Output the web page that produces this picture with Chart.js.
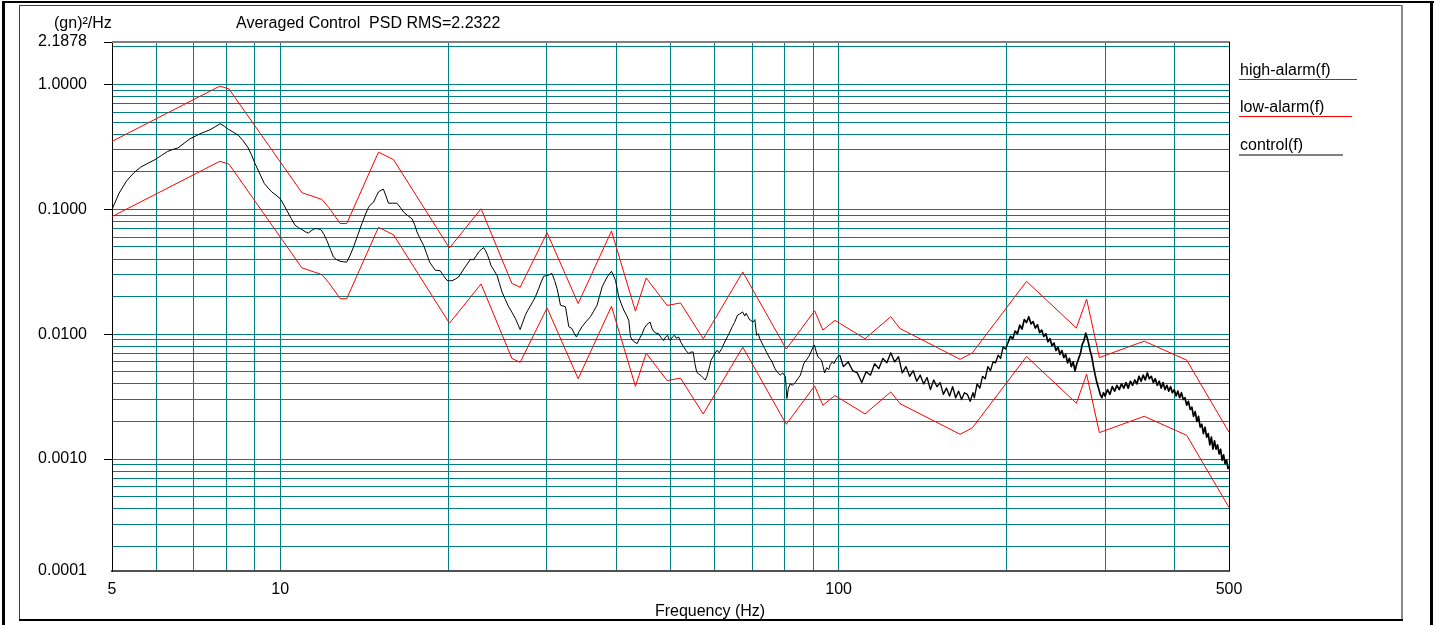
<!DOCTYPE html>
<html>
<head>
<meta charset="utf-8">
<title>Averaged Control PSD</title>
<script src="https://cdn.jsdelivr.net/npm/chart.js@4.4.1/dist/chart.umd.min.js"></script>
<style>
  html, body { margin: 0; padding: 0; background: #ffffff; }
  #wrap { width: 1440px; height: 625px; }
</style>
</head>
<body>
<div id="wrap"><canvas id="psd" width="1440" height="625"></canvas></div>
<script>
// ---- data ---------------------------------------------------------------
// Alarm profiles: breakpoints in Hz and (gn)^2/Hz
const alarmFreq = [5, 7.8, 8.1, 10.94, 11.88, 12.21, 12.81, 13.16, 15.0, 15.96, 20.1, 22.9, 26.0, 26.9, 30.06, 34.17, 39.2, 43.27, 45.23, 49.32, 52.1, 57.22, 67.36, 80.58, 90.58, 93.73, 98.5, 111.5, 124, 128.8, 165, 173.6, 217, 266.5, 278, 293, 352.5, 420, 500];
const highAlarm = [0.35, 0.97, 0.92, 0.136, 0.120, 0.104, 0.077, 0.077, 0.287, 0.25, 0.049, 0.101, 0.0255, 0.0238, 0.065, 0.0176, 0.067, 0.0153, 0.0282, 0.0170, 0.0178, 0.0092, 0.0315, 0.0076, 0.0154, 0.0108, 0.0129, 0.0092, 0.0138, 0.0111, 0.0063, 0.0071, 0.0265, 0.0112, 0.0191, 0.0065, 0.0088, 0.0062, 0.00164];
const lowAlarm = [0.0875, 0.2425, 0.23, 0.034, 0.030, 0.026, 0.01925, 0.01925, 0.0718, 0.0625, 0.01225, 0.02525, 0.0064, 0.00595, 0.01625, 0.0044, 0.01675, 0.00383, 0.00705, 0.00425, 0.00445, 0.0023, 0.00788, 0.0019, 0.00385, 0.0027, 0.00323, 0.0023, 0.00345, 0.00278, 0.00158, 0.00178, 0.00663, 0.0028, 0.00478, 0.00163, 0.0022, 0.00155, 0.00041];

// Averaged control spectrum: [frequency Hz, PSD (gn)^2/Hz]
const controlSpectrum = [
  [5.00,0.100],[5.15,0.135],[5.31,0.169],[5.47,0.196],[5.63,0.218],[5.80,0.234],[5.97,0.250],[6.13,0.270],[6.29,0.291],[6.42,0.301],
  [6.56,0.310],[6.73,0.338],[6.90,0.368],[7.05,0.385],[7.19,0.403],[7.34,0.418],[7.49,0.434],[7.65,0.458],[7.81,0.485],[7.95,0.462],
  [8.08,0.437],[8.25,0.414],[8.42,0.391],[8.58,0.355],[8.75,0.315],[8.88,0.275],[9.02,0.232],[9.20,0.192],[9.37,0.161],[9.52,0.148],
  [9.66,0.138],[9.83,0.130],[10.00,0.122],[10.14,0.110],[10.28,0.098],[10.46,0.085],[10.64,0.0745],[10.79,0.0712],[10.94,0.0688],[11.09,0.0662],
  [11.24,0.0646],[11.40,0.0680],[11.55,0.0701],[11.69,0.0698],[11.83,0.0688],[11.98,0.0630],[12.12,0.0565],[12.30,0.0480],[12.46,0.0415],[12.63,0.0395],
  [12.80,0.0384],[13.00,0.0380],[13.16,0.0378],[13.35,0.0430],[13.53,0.0499],[13.77,0.0620],[14.01,0.0769],[14.20,0.0900],[14.40,0.104],[14.55,0.110],
  [14.70,0.114],[14.85,0.126],[15.00,0.138],[15.15,0.142],[15.31,0.145],[15.47,0.128],[15.63,0.112],[15.90,0.112],[16.18,0.112],[16.40,0.104],
  [16.63,0.0952],[16.90,0.0895],[17.22,0.0842],[17.40,0.0760],[17.58,0.0659],[17.82,0.0580],[18.07,0.0515],[18.30,0.0440],[18.52,0.0378],[18.74,0.0350],
  [18.96,0.0325],[19.15,0.0324],[19.35,0.0322],[19.60,0.0295],[19.89,0.0270],[20.10,0.0268],[20.31,0.0268],[20.58,0.0276],[20.87,0.0287],[21.15,0.0315],
  [21.45,0.0346],[21.70,0.0372],[21.90,0.0396],[22.20,0.0396],[22.45,0.0425],[22.67,0.0456],[22.90,0.0475],[23.14,0.0494],[23.33,0.0465],[23.52,0.0429],
  [23.70,0.0390],[23.85,0.0356],[24.15,0.0325],[24.45,0.0296],[24.70,0.0255],[24.96,0.0218],[25.30,0.0190],[25.65,0.0166],[26.00,0.0150],[26.37,0.0134],
  [26.65,0.0120],[26.90,0.0109],[27.20,0.0125],[27.48,0.0142],[27.75,0.0155],[28.05,0.0168],[28.35,0.0183],[28.64,0.0199],[29.04,0.0232],[29.34,0.0262],
  [29.64,0.0291],[29.90,0.0294],[30.18,0.0296],[30.43,0.0302],[30.68,0.0306],[31.00,0.0270],[31.32,0.0232],[31.55,0.0200],[31.76,0.0171],[32.10,0.0168],
  [32.42,0.0166],[32.65,0.0138],[32.87,0.0115],[33.30,0.0111],[33.60,0.0102],[33.93,0.0095],[34.30,0.0105],[34.73,0.0115],[35.30,0.0126],[35.94,0.0138],
  [36.40,0.0152],[36.94,0.0171],[37.30,0.0200],[37.72,0.0239],[38.10,0.0262],[38.50,0.0287],[38.85,0.0303],[39.20,0.0319],[39.50,0.0298],[39.85,0.0270],
  [40.10,0.0235],[40.39,0.0199],[40.80,0.0176],[41.24,0.0156],[41.70,0.0142],[42.10,0.0129],[42.40,0.0095],[42.90,0.0088],[43.57,0.0084],[44.00,0.0092],
  [44.48,0.0101],[44.90,0.0112],[45.40,0.0120],[45.97,0.0125],[46.30,0.0112],[46.67,0.0105],[47.10,0.0102],[47.60,0.0101],[48.10,0.0094],[48.60,0.0089],
  [49.00,0.0095],[49.40,0.0098],[49.70,0.0091],[50.00,0.0089],[50.40,0.0095],[50.80,0.0098],[51.20,0.0093],[51.70,0.0095],[52.20,0.0086],[52.80,0.0079],
  [53.30,0.0074],[53.90,0.0070],[54.40,0.0072],[54.90,0.0072],[55.30,0.0058],[55.70,0.0050],[56.10,0.0048],[56.60,0.0047],[57.10,0.0045],[57.70,0.0043],
  [58.10,0.0046],[58.40,0.0050],[58.80,0.0056],[59.10,0.0062],[59.60,0.0066],[60.00,0.0070],[60.60,0.00745],[61.10,0.0071],[61.80,0.0077],[62.40,0.0085],
  [63.20,0.0095],[63.70,0.0102],[64.50,0.0115],[65.10,0.0124],[65.90,0.0142],[66.50,0.0145],[67.30,0.0151],[67.90,0.0140],[68.30,0.0147],[68.80,0.0138],
  [69.40,0.0130],[70.30,0.0125],[70.80,0.0131],[71.30,0.0098],[71.80,0.0101],[72.20,0.0093],[72.90,0.0085],[73.70,0.0077],[74.40,0.0071],[75.30,0.0064],
  [75.90,0.0061],[76.90,0.0053],[77.60,0.0050],[78.60,0.0047],[79.40,0.0049],[80.30,0.00456],[80.80,0.00306],[81.30,0.0037],[81.90,0.0040],[82.70,0.0039],
  [83.60,0.0041],[84.50,0.0044],[85.40,0.0047],[86.00,0.0052],[86.60,0.0058],[87.50,0.0062],[88.40,0.0066],[89.20,0.0072],[89.90,0.0078],[90.50,0.0082],
  [91.20,0.0072],[91.80,0.0066],[92.50,0.0064],[93.20,0.0062],[93.80,0.0055],[94.40,0.0049],[95.20,0.0054],[96.00,0.0052],[96.60,0.0057],[97.40,0.0060],
  [98.10,0.0058],[98.80,0.0062],[99.60,0.0066],[100.5,0.0068],[102,0.0055],[104,0.0060],[106,0.0051],[108,0.0049],[110,0.0041],[112,0.0050],
  [114,0.0047],[116,0.0058],[118,0.0053],[120,0.0064],[122,0.0059],[124,0.0071],[126,0.0060],[128,0.0066],[130,0.0049],[132,0.0055],
  [134,0.0046],[136,0.0051],[138,0.0042],[140,0.0047],[142,0.0040],[144,0.0045],[146,0.0036],[148,0.0043],[150,0.0038],[152,0.0041],
  [154,0.0033],[156,0.0037],[158,0.0032],[160,0.0038],[162,0.0031],[164,0.0035],[166,0.0030],[168,0.0034],[170,0.0033],[172,0.0029],
  [174,0.0034],[175,0.0031],[177,0.0040],[179,0.0037],[181,0.0046],[183,0.0044],[185,0.0055],[187,0.0051],[189,0.0060],[191,0.0059],
  [193,0.0068],[195,0.0064],[197,0.0079],[199,0.0076],[201,0.0085],[203,0.0096],[205,0.0092],[207,0.0106],[209,0.0101],[211,0.0118],
  [213,0.0110],[215,0.0131],[217,0.0124],[219,0.0138],[221,0.0121],[223,0.0126],[225,0.0112],[227,0.0119],[229,0.0103],[231,0.0108],
  [233,0.0096],[235,0.0101],[237,0.0087],[239,0.0092],[241,0.0081],[243,0.0085],[245,0.0074],[247,0.0079],[249,0.0069],[251,0.0074],
  [253,0.0065],[255,0.0069],[257,0.0059],[259,0.0064],[261,0.0055],[263,0.0060],[265,0.0051],[267,0.0058],[269,0.0064],[271,0.0070],
  [273,0.0083],[275,0.0089],[277,0.0102],[278.5,0.0094],[280,0.0086],[282,0.0074],[284,0.0066],[286,0.0055],[288,0.0047],[290,0.0041],
  [292,0.0037],[294,0.0033],[296,0.0031],[298,0.0034],[300,0.0032],[303,0.0036],[306,0.0033],[309,0.0038],[312,0.0035],[315,0.0039],
  [318,0.0036],[321,0.0040],[324,0.0037],[327,0.0041],[330,0.0037],[333,0.0042],[336,0.0039],[339,0.0043],[342,0.0040],[345,0.0046],
  [348,0.0042],[351,0.0047],[354,0.0043],[357,0.0049],[360,0.0044],[363,0.0046],[366,0.0041],[369,0.0044],[372,0.0039],[375,0.0042],
  [378,0.0037],[381,0.0041],[384,0.0036],[387,0.0039],[390,0.0035],[393,0.0038],[396,0.0034],[399,0.0036],[402,0.0032],[405,0.0035],
  [408,0.0031],[411,0.0034],[414,0.0030],[417,0.0031],[420,0.0027],[423,0.0029],[426,0.0025],[429,0.0026],[432,0.0022],[435,0.0024],
  [438,0.0020],[441,0.0022],[444,0.0018],[447,0.0019],[450,0.0016],[453,0.0018],[456,0.0015],[459,0.0016],[462,0.0013],[465,0.0015],
  [468,0.0012],[471,0.0014],[474,0.0012],[477,0.0013],[480,0.0011],[483,0.0012],[486,0.00098],[489,0.00108],[492,0.00092],[495,0.00098],
  [498,0.00084],[500,0.00088]
];

// Axis ticks
const xGridFreqs = [5, 6, 7, 8, 9, 10, 20, 30, 40, 50, 60, 70, 80, 90, 100, 200, 300, 400, 500];
const xTickLabels = { 5: '5', 10: '10', 100: '100', 500: '500' };
const yAxisMin = 0.000127;
const yAxisMax = 2.1878;
const yLabelValues = [yAxisMin, 0.001, 0.01, 0.1, 1, yAxisMax];
const yLabelTexts = ['0.0001', '0.0010', '0.0100', '0.1000', '1.0000', '2.1878'];
const yGridValues = [
  0.0002, 0.0003, 0.0004, 0.0005, 0.0006, 0.0007, 0.0008, 0.0009,
  0.002, 0.003, 0.004, 0.005, 0.006, 0.007, 0.008, 0.009,
  0.02, 0.03, 0.04, 0.05, 0.06, 0.07, 0.08, 0.09,
  0.2, 0.3, 0.4, 0.5, 0.6, 0.7, 0.8, 0.9, 2
];

// Text
const unitLabel = '(gn)\u00B2/Hz';
const chartTitle = 'Averaged Control  PSD RMS=2.2322';
const xAxisTitle = 'Frequency (Hz)';
const legendNames = ['high-alarm(f)', 'low-alarm(f)', 'control(f)'];

// ---- drawing ------------------------------------------------------------
const FONT_FAMILY = "'Liberation Sans', Arial, Helvetica, sans-serif";
const TEAL = '#008080';
const RED = '#ff0000';
const NONE = 'rgba(0,0,0,0)';

const sameValue = (a, b) => Math.abs(a - b) <= Math.abs(b) * 1e-6;
const labelIndex = (v) => yLabelValues.findIndex(t => sameValue(v, t));

// the densely sampled upper band reads as a heavier trace
const controlSegmentWidth = (seg) => {
  const f = seg.p0.parsed.x;
  if (f >= 200) return 1.7;
  if (f >= 100) return 1.35;
  return 1;
};

const pagePlugin = {
  id: 'page',
  beforeDraw(chart) {
    const c = chart.ctx;
    c.save();
    c.fillStyle = '#ffffff';
    c.fillRect(0, 0, chart.width, chart.height);
    // outer black frame
    c.fillStyle = '#000000';
    c.fillRect(2, 1, 1432, 2);
    c.fillRect(2, 1, 3, 624);
    c.fillRect(1430, 1, 3, 624);
    // inner panel frame
    c.fillStyle = '#404040';
    c.fillRect(19, 5, 1384, 1);
    c.fillRect(19, 5, 1, 616);
    c.fillStyle = '#8a8a8a';
    c.fillRect(1401, 5, 2, 616);
    c.fillStyle = '#000000';
    c.fillRect(19, 619, 1384, 2);
    c.restore();
  },
  afterDatasetsDraw(chart) {
    const c = chart.ctx;
    const a = chart.chartArea;
    c.save();
    // top and right edges of the plot box
    c.fillStyle = '#808080';
    c.fillRect(a.left, a.top - 1, a.right - a.left + 1, 2);
    c.fillStyle = '#000000';
    c.fillRect(Math.round(a.right), a.top, 1, a.bottom - a.top);
    c.restore();
  },
  afterDraw(chart) {
    const c = chart.ctx;
    c.save();
    c.fillStyle = '#000000';
    c.font = '16px ' + FONT_FAMILY;
    c.textBaseline = 'alphabetic';
    c.textAlign = 'left';
    c.fillText(unitLabel, 54, 28);
    c.fillText(chartTitle, 236, 28);
    c.textAlign = 'center';
    c.fillText(xAxisTitle, 710, 616);
    // legend: name with a coloured underline
    c.textAlign = 'left';
    const rows = [
      { y: 75, color: RED, len: 118, w: 1 },
      { y: 112, color: RED, len: 113, w: 1 },
      { y: 150, color: '#808080', len: 104, w: 2 }
    ];
    rows.forEach((r, i) => {
      c.fillStyle = '#000000';
      c.fillText(legendNames[i], 1240, r.y);
      c.fillStyle = r.color;
      c.fillRect(1239, r.y + 4, r.len, r.w);
    });
    c.restore();
  }
};

const ctx = document.getElementById('psd').getContext('2d');
new Chart(ctx, {
  type: 'line',
  data: {
    datasets: [
      {
        label: legendNames[2],
        data: controlSpectrum.map(([x, y]) => ({ x, y })),
        borderColor: '#000000',
        borderWidth: 1,
        segment: { borderWidth: controlSegmentWidth },
        order: 0
      },
      {
        label: legendNames[0],
        data: alarmFreq.map((x, i) => ({ x, y: highAlarm[i] })),
        borderColor: RED,
        borderWidth: 1,
        order: 1
      },
      {
        label: legendNames[1],
        data: alarmFreq.map((x, i) => ({ x, y: lowAlarm[i] })),
        borderColor: RED,
        borderWidth: 1,
        order: 2
      }
    ]
  },
  options: {
    responsive: false,
    animation: false,
    devicePixelRatio: 1,
    layout: { padding: { top: 42, right: 211, left: 0, bottom: 0 } },
    elements: { point: { radius: 0 }, line: { tension: 0, borderJoinStyle: 'round' } },
    plugins: { legend: { display: false }, tooltip: { enabled: false }, title: { display: false } },
    scales: {
      x: {
        type: 'logarithmic',
        min: 5,
        max: 500,
        afterFit(s) { s.height = 54; },
        afterBuildTicks(s) { s.ticks = xGridFreqs.map(v => ({ value: v })); },
        ticks: {
          autoSkip: false,
          maxRotation: 0,
          padding: 9,
          color: '#000000',
          font: { family: FONT_FAMILY, size: 16 },
          callback: (v) => xTickLabels[v] || ''
        },
        grid: {
          drawTicks: false,
          lineWidth: 1,
          color: (c) => (c.tick && (c.tick.value === 5 || c.tick.value === 500)) ? NONE : TEAL
        },
        border: { color: '#505050', width: 2 }
      },
      y: {
        type: 'logarithmic',
        min: yAxisMin,
        max: yAxisMax,
        afterFit(s) { s.width = 112; },
        afterBuildTicks(s) {
          const vals = yLabelValues.concat(yGridValues).sort((p, q) => p - q);
          s.ticks = vals.map(v => ({ value: v }));
        },
        ticks: {
          autoSkip: false,
          padding: 17,
          color: '#000000',
          font: { family: FONT_FAMILY, size: 16 },
          callback: (v) => { const k = labelIndex(v); return k < 0 ? '' : yLabelTexts[k]; }
        },
        grid: {
          drawTicks: true,
          tickLength: 8,
          lineWidth: 1,
          color: (c) => {
            if (!c.tick) return TEAL;
            const v = c.tick.value;
            return (sameValue(v, yAxisMin) || sameValue(v, yAxisMax)) ? NONE : TEAL;
          },
          tickColor: (c) => {
            if (!c.tick) return NONE;
            const v = c.tick.value;
            return (labelIndex(v) > 0) ? '#000000' : NONE;
          }
        },
        border: { color: '#000000', width: 1 }
      }
    }
  },
  plugins: [pagePlugin]
});
</script>
</body>
</html>
